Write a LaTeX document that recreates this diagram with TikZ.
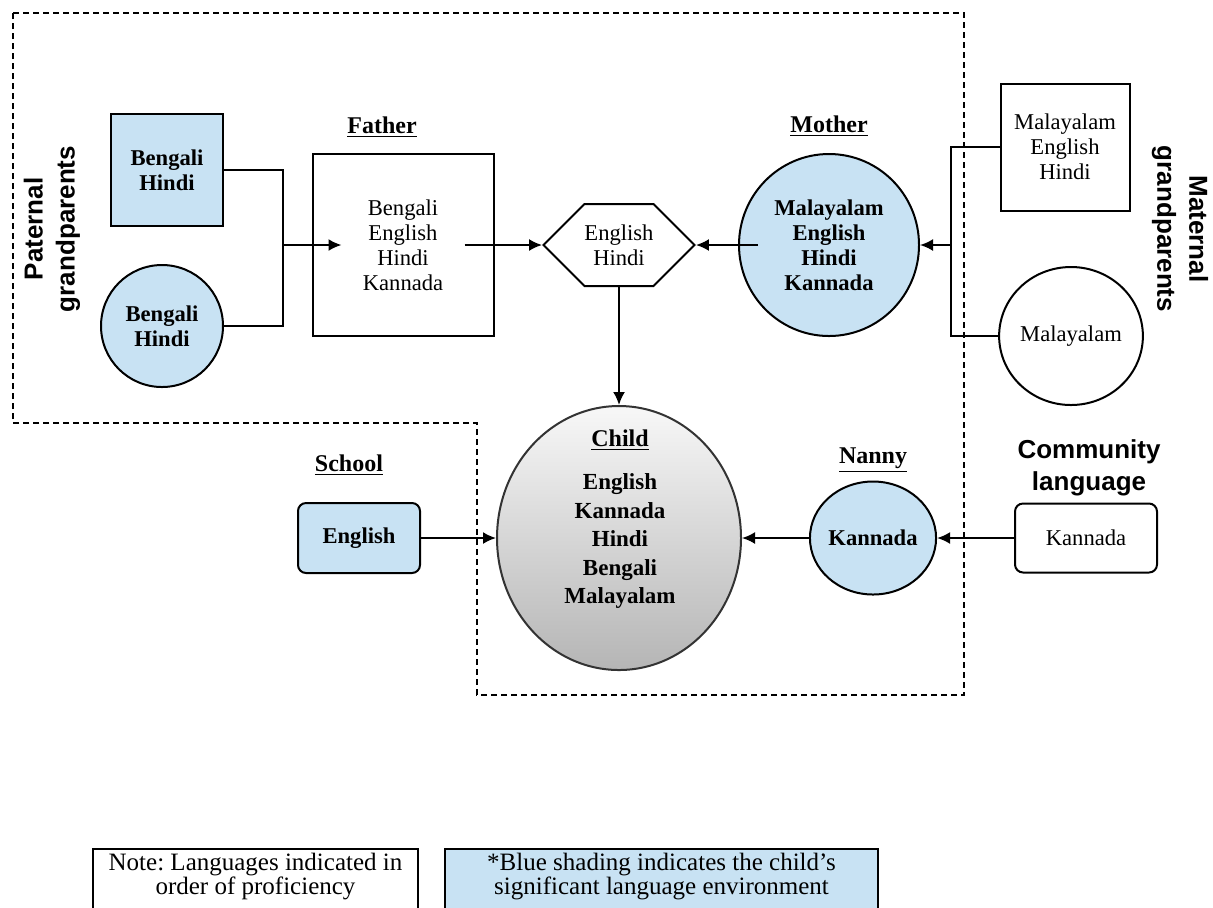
\documentclass[tikz,border=0pt]{standalone}
\usepackage{fontspec}
\setmainfont{Liberation Serif}
\newfontfamily\sidefont{Liberation Sans}
\usetikzlibrary{
  shapes.geometric,
  shapes.symbols,
  arrows.meta
}
\definecolor{envblue}{RGB}{200,226,243}
\frenchspacing
\tikzset{
>={Latex[length=6.5pt,width=6pt]},
lang/.style={draw, align=center, inner sep=0pt, font=\fontsize{11.3}{12.5}\selectfont},
envlang/.style={lang, fill=envblue, font=\bfseries\fontsize{11.3}{12.5}\selectfont},
heading/.style={font=\bfseries\fontsize{12}{14}\selectfont, inner sep=0pt},
sidelabel/.style={align=center, font=\sidefont\bfseries\fontsize{13}{16}\selectfont},
keybox/.style={draw, align=center, inner xsep=0pt, inner ysep=2pt, anchor=north, font=\fontsize{12.5}{12}\selectfont},
dashbox/.style={dash pattern=on 3pt off 2pt, line width=1.2pt}
}

\begin{document}
\begin{tikzpicture}[x=0.5pt, y=-0.5pt, line width=1pt]
 \useasboundingbox (0,0) rectangle (1213,907);
 \draw[dashbox] (13,13) -- (964,13) -- (964,695) -- (477,695) -- (477,423) -- (13,423) -- cycle;

 \node[sidelabel, rotate=90] (patlbl) at (52,229) {Paternal\\grandparents};
 \node[sidelabel, rotate=-90] (matlbl) at (1180,229) {Maternal\\grandparents};

 \node[envlang, minimum width=56pt, minimum height=56pt] (patgf) at (167,170) {Bengali\\Hindi};
 \node[envlang, ellipse, minimum width=61pt, minimum height=61pt] (patgm) at (162,326) {Bengali\\Hindi};
 \node[lang, minimum width=90.5pt, minimum height=91pt] (father) at (403,245) {Bengali\\English\\Hindi\\Kannada};
 \node[heading] (fatherlbl) at (382,127) {\underline{Father}};

 \node[lang, signal, signal to=west and east, signal pointer angle=90, minimum width=70.5pt, minimum height=41pt] (both) at (619,245) {English\\Hindi};

 \node[envlang, ellipse, minimum width=90pt, minimum height=91pt] (mother) at (829,245) {Malayalam\\English\\Hindi\\Kannada};
 \node[heading] (motherlbl) at (829,126) {\underline{Mother}};
 \node[lang, minimum width=64.5pt, minimum height=63.5pt] (matgf) at (1065,147) {Malayalam\\English\\Hindi};
 \node[lang, ellipse, minimum width=70pt, minimum height=69pt] (matgm) at (1071,336) {Malayalam};

 \node[draw=gray!40!black, ellipse, top color=gray!6, bottom color=gray!58, minimum width=122pt, minimum height=132pt] (child) at (619,538) {};
 \node[heading] (childlbl) at (620,440) {\underline{Child}};
 \node[align=center, font=\bfseries\fontsize{11.5}{14.25}\selectfont] (childlangs) at (620,541) {English\\Kannada\\Hindi\\Bengali\\Malayalam};

 \node[envlang, rounded corners=4pt, minimum width=61pt, minimum height=35pt] (school) at (359,538) {English};
 \node[heading] (schoollbl) at (349,465) {\underline{School}};
 \node[envlang, ellipse, minimum width=60.5pt, minimum height=56.5pt] (nanny) at (873,538) {Kannada};
 \node[heading] (nannylbl) at (873,460) {\underline{Nanny}};
 \node[lang, rounded corners=4pt, minimum width=71pt, minimum height=34.5pt] (community) at (1086,538) {Kannada};
 \node[sidelabel] (communitylbl) at (1089,468) {Community\\language};

 \coordinate (pj) at (283,245);
 \coordinate (mj) at (951,245);
 \draw (patgf.east) -| (pj) |- (patgm.east);
 \draw[->] (pj) -- ([xshift=15pt]father.west);
 \draw[->] ([xshift=-15pt]father.east) -- (both.west);
 \draw[->] ([xshift=10pt]mother.west) -- (both.east);
 \draw (matgf.west) -| (mj) |- (matgm.west);
 \draw[->] (mj) -- (mother.east);
 \draw[->] (both.south) -- (child.north);
 \draw[->] (school.east) -- (child.west);
 \draw[->] (nanny.west) -- (child.east);
 \draw[->] (community.west) -- (nanny.east);

 \node[keybox, minimum width=162.5pt] (note) at (255.5,848) {Note: Languages indicated in\\order of proficiency\rule[-9pt]{0pt}{9pt}};
 \node[keybox, fill=envblue, minimum width=216.5pt] (key) at (661.5,848) {*Blue shading indicates the child's\\significant language environment\rule[-9pt]{0pt}{9pt}};
\end{tikzpicture}
\end{document}
